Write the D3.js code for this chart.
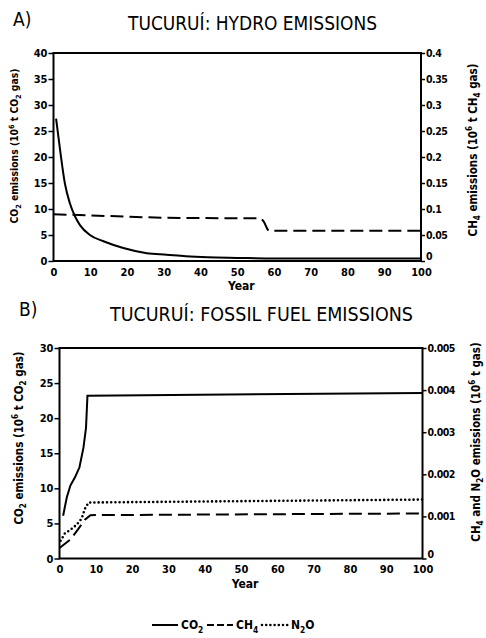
<!DOCTYPE html>
<html>
<head>
<meta charset="utf-8">
<script src="https://cdn.jsdelivr.net/npm/d3@7"></script>
<style>
  body { margin: 0; background: #fff; }
  svg { display: block; }
  text { font-family: "DejaVu Sans Condensed", "DejaVu Sans", sans-serif; font-weight: bold; fill: #000; }
</style>
</head>
<body>
<div id="chart"></div>
<script>
// panel A: hydro emissions
const hydroYears = [0.7, 1.8, 3.1, 4.5, 5.9, 7.2, 9.9, 13.6, 19, 25.4, 30.8, 36, 42, 50, 60, 80, 100];
const hydroCO2 = [27.4, 21.3, 14.9, 11.0, 8.5, 6.9, 5.0, 3.8, 2.5, 1.5, 1.2, 0.9, 0.7, 0.6, 0.5, 0.5, 0.5];
const hydroCH4Years = [0, 30, 56.5, 57.3, 58.2, 58.6, 100];
const hydroCH4 = [0.09, 0.083, 0.082, 0.075, 0.061, 0.058, 0.058];

// panel B: fossil fuel emissions
const fossilCO2Years = [1, 2, 3, 4.3, 5.5, 6.6, 7.3, 7.7, 100];
const fossilCO2 = [6.1, 8.7, 10.4, 11.6, 13.0, 15.8, 18.6, 23.2, 23.6];
const fossilCH4Years = [0, 3, 5, 7, 8.5, 100];
const fossilCH4 = [0.00025, 0.00045, 0.00068, 0.00092, 0.00103, 0.00107];
const fossilN2OYears = [0.3, 1.5, 3, 4.7, 6.1, 7, 8, 100];
const fossilN2O = [0.00042, 0.0006, 0.00068, 0.0008, 0.00095, 0.00118, 0.00133, 0.0014];

// ticks
const yearTicks = [0, 10, 20, 30, 40, 50, 60, 70, 80, 90, 100];
const hydroLeftTicks = [0, 5, 10, 15, 20, 25, 30, 35, 40];
const hydroRightTicks = [0, 0.05, 0.1, 0.15, 0.2, 0.25, 0.3, 0.35, 0.4];
const fossilLeftTicks = [0, 5, 10, 15, 20, 25, 30];
const fossilRightTicks = [0, 0.001, 0.002, 0.003, 0.004, 0.005];

const width = 486, height = 638;
const svg = d3.select("#chart").append("svg")
    .attr("width", width)
    .attr("height", height);

// text with sub/superscripts: parts = [[str, "sub"|"sup"|null], ...]
function rich(t, parts, size) {
    let shift = 0;
    parts.forEach(([s, kind]) => {
        const target = kind == "sub" ? size * 0.3 : kind == "sup" ? -size * 0.4 : 0;
        t.append("tspan")
            .attr("dy", target - shift)
            .style("font-size", kind ? (size * 0.7) + "px" : size + "px")
            .text(s);
        shift = target;
    });
    return t;
}

const pairs = (xs, ys) => xs.map((x, i) => [x, ys[i]]);

function panel(cfg) {
    const g = svg.append("g");
    const x = d3.scaleLinear().domain([0, 100]).range(cfg.xr);
    const yL = d3.scaleLinear().domain([0, cfg.leftMax]).range(cfg.yr);
    const yR = d3.scaleLinear().domain([0, cfg.rightMax]).range(cfg.yr);

    // frame
    g.append("rect")
        .attr("x", cfg.xr[0]).attr("y", cfg.yr[1])
        .attr("width", cfg.xr[1] - cfg.xr[0]).attr("height", cfg.yr[0] - cfg.yr[1])
        .attr("fill", "none").attr("stroke", "#000").attr("stroke-width", 2);

    const left = g.append("g")
        .attr("transform", `translate(${cfg.xr[0]},0)`)
        .call(d3.axisLeft(yL).tickValues(cfg.leftTicks).tickSize(5).tickPadding(1).tickFormat(d => d));
    const right = g.append("g")
        .attr("transform", `translate(${cfg.xr[1]},0)`)
        .call(d3.axisRight(yR).tickValues(cfg.rightTicks).tickSize(4).tickPadding(1).tickFormat(d => String(d)));
    const bottom = g.append("g")
        .attr("transform", `translate(0,${cfg.yr[0]})`)
        .call(d3.axisBottom(x).tickValues(yearTicks).tickSize(0).tickPadding(7));

    [left, right, bottom].forEach(a => {
        a.select(".domain").remove();
        a.selectAll("line").attr("stroke", "#000").attr("stroke-width", 1.5);
        a.selectAll("text").style("font-size", "11px").style("font-family", null);
    });
    right.selectAll("text").style("font-size", "10.5px").attr("letter-spacing", "-0.5");
    // the 0 label sits a little above the corner, clear of "100"
    right.selectAll(".tick").filter(d => d == 0).select("text").attr("dy", "-0.1em");

    g.append("text")
        .attr("x", (cfg.xr[0] + cfg.xr[1]) / 2 + 4).attr("y", cfg.yr[0] + 29)
        .attr("text-anchor", "middle").style("font-size", "12px")
        .text("Year");

    // series
    cfg.series.forEach(s => {
        const y = s.axis == "left" ? yL : yR;
        const line = d3.line().x(d => x(d[0])).y(d => y(d[1])).curve(s.curve || d3.curveLinear);
        g.append("path")
            .datum(s.data)
            .attr("d", line)
            .attr("fill", "none")
            .attr("stroke", "#000")
            .attr("stroke-width", s.width || 2)
            .attr("stroke-dasharray", s.dash || null)
            .attr("stroke-linecap", s.cap || "butt");
    });

    // panel letter and title
    g.append("text").attr("x", cfg.letterX).attr("y", cfg.letterY)
        .style("font-size", "19px").style("font-weight", "normal").text(cfg.letter);
    g.append("text").attr("x", cfg.titleX).attr("y", cfg.titleY)
        .attr("textLength", cfg.titleLen).attr("lengthAdjust", "spacingAndGlyphs")
        .style("font-size", "19px").style("font-weight", "normal").text(cfg.title);

    // axis titles
    const lt = g.append("text")
        .attr("transform", `translate(${cfg.leftTitleX},${cfg.leftTitleY}) rotate(-90)`)
        .attr("text-anchor", "middle");
    rich(lt, cfg.leftTitle, cfg.leftTitleSize);
    const rt = g.append("text")
        .attr("transform", `translate(${cfg.rightTitleX},${cfg.rightTitleY}) rotate(-90)`)
        .attr("text-anchor", "middle");
    rich(rt, cfg.rightTitle, 11.5);
}

const DASH = "13,6";
const DOT = "0,4.2";

panel({
    xr: [53.5, 421], yr: [261, 53],
    leftMax: 40, rightMax: 0.4,
    leftTicks: hydroLeftTicks, rightTicks: hydroRightTicks,
    letter: "A)", letterX: 13, letterY: 26,
    title: "TUCURUÍ: HYDRO EMISSIONS", titleX: 128, titleY: 30, titleLen: 249,
    leftTitle: [["CO", null], ["2", "sub"], [" emissions (10", null], ["6", "sup"], [" t CO", null], ["2", "sub"], [" gas)", null]],
    leftTitleX: 18, leftTitleY: 146, leftTitleSize: 10.3,
    rightTitle: [["CH", null], ["4", "sub"], [" emissions (10", null], ["6", "sup"], [" t CH", null], ["4", "sub"], [" gas)", null]],
    rightTitleX: 477, rightTitleY: 150,
    series: [
        { data: pairs(hydroYears, hydroCO2), axis: "left", curve: d3.curveMonotoneX },
        { data: pairs(hydroCH4Years, hydroCH4), axis: "right", dash: DASH }
    ]
});

panel({
    xr: [59.5, 422.5], yr: [558.5, 348],
    leftMax: 30, rightMax: 0.005,
    leftTicks: fossilLeftTicks, rightTicks: fossilRightTicks,
    letter: "B)", letterX: 19, letterY: 316,
    title: "TUCURUÍ: FOSSIL FUEL EMISSIONS", titleX: 110, titleY: 321, titleLen: 303,
    leftTitle: [["CO", null], ["2", "sub"], [" emissions (10", null], ["6", "sup"], [" t CO", null], ["2", "sub"], [" gas)", null]],
    leftTitleX: 23, leftTitleY: 438, leftTitleSize: 11.5,
    rightTitle: [["CH", null], ["4", "sub"], [" and N", null], ["2", "sub"], ["O emissions (10", null], ["6", "sup"], [" t gas)", null]],
    rightTitleX: 480, rightTitleY: 442,
    series: [
        { data: pairs(fossilCO2Years, fossilCO2), axis: "left" },
        { data: pairs(fossilCH4Years, fossilCH4), axis: "right", dash: DASH },
        { data: pairs(fossilN2OYears, fossilN2O), axis: "right", dash: DOT, cap: "round", width: 2.6 }
    ]
});

// legend
const legendItems = [
    { label: [["CO", null], ["2", "sub"]], dash: null, cap: "butt", w: 2 },
    { label: [["CH", null], ["4", "sub"]], dash: "7,3", cap: "butt", w: 2 },
    { label: [["N", null], ["2", "sub"], ["O", null]], dash: DOT, cap: "round", w: 2.6 }
];
const legendX = [152, 207, 262];
const legend = svg.append("g");
legendItems.forEach((it, i) => {
    legend.append("line")
        .attr("x1", legendX[i]).attr("x2", legendX[i] + 26)
        .attr("y1", 625).attr("y2", 625)
        .attr("stroke", "#000").attr("stroke-width", it.w)
        .attr("stroke-dasharray", it.dash).attr("stroke-linecap", it.cap);
    const t = legend.append("text").attr("x", legendX[i] + 29).attr("y", 629);
    rich(t, it.label, 12);
});
</script>
</body>
</html>
